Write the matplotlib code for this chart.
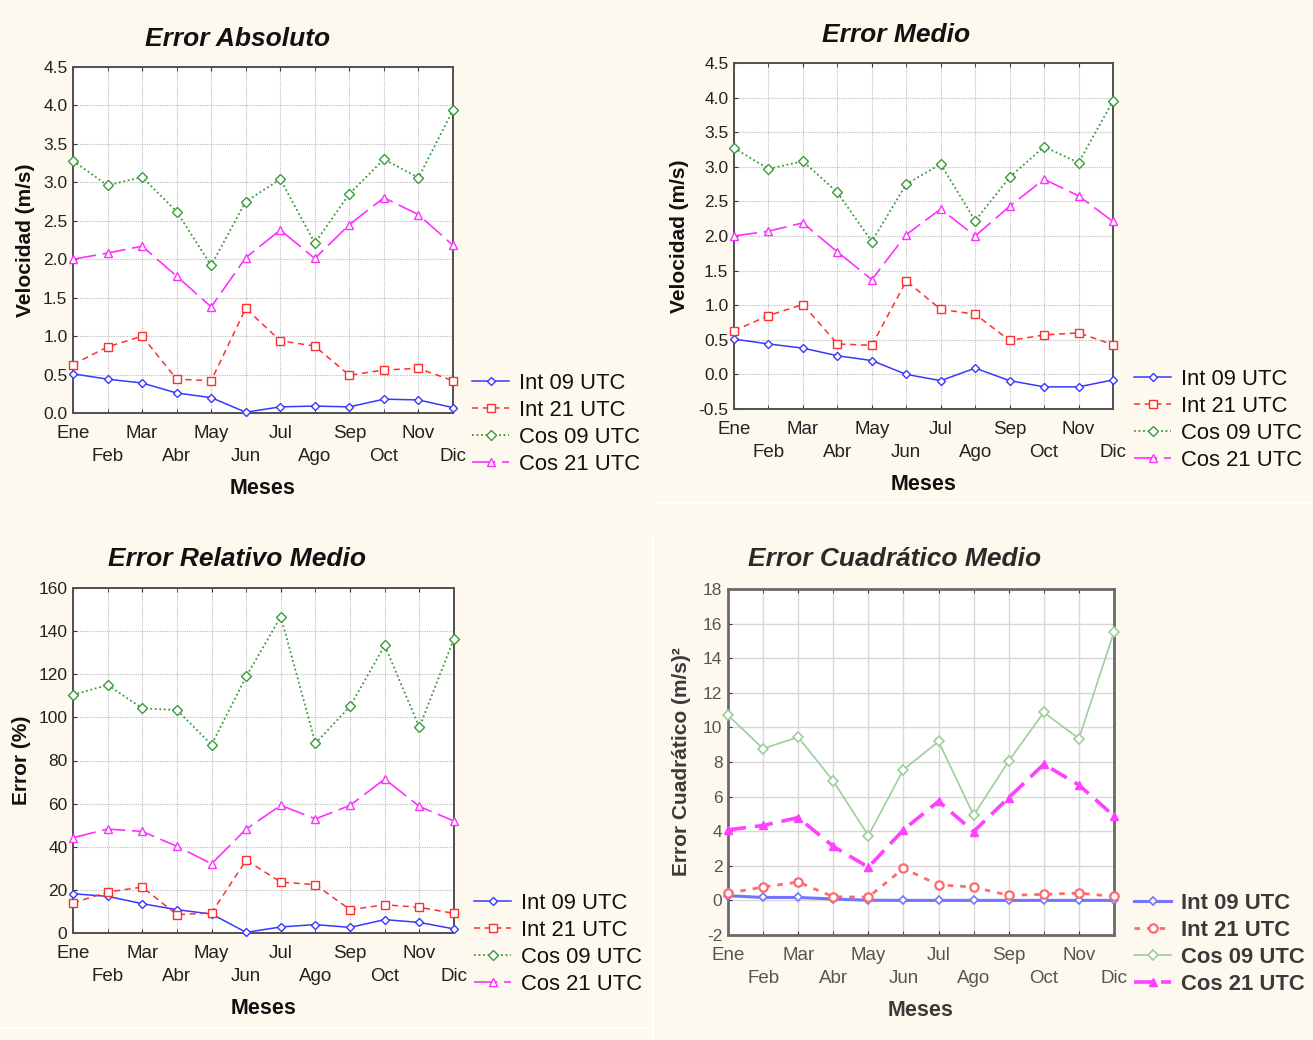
import matplotlib
matplotlib.use("Agg")
import matplotlib.pyplot as plt
from matplotlib.lines import Line2D

plt.rcParams['font.family'] = ['Liberation Sans', 'DejaVu Sans']

W, H = 1313, 1040
BG = '#fdf9ee'

months = ['Ene', 'Feb', 'Mar', 'Abr', 'May', 'Jun', 'Jul', 'Ago', 'Sep', 'Oct', 'Nov', 'Dic']
series_names = ['Int 09 UTC', 'Int 21 UTC', 'Cos 09 UTC', 'Cos 21 UTC']

# Error Absoluto (m/s)
abs_int09 = [0.51, 0.44, 0.39, 0.26, 0.20, 0.01, 0.08, 0.09, 0.08, 0.18, 0.17, 0.07]
abs_int21 = [0.63, 0.86, 1.00, 0.44, 0.42, 1.36, 0.94, 0.87, 0.49, 0.56, 0.58, 0.42]
abs_cos09 = [3.28, 2.96, 3.07, 2.62, 1.92, 2.75, 3.04, 2.21, 2.85, 3.30, 3.06, 3.94]
abs_cos21 = [2.00, 2.08, 2.17, 1.78, 1.38, 2.02, 2.38, 2.01, 2.45, 2.80, 2.58, 2.18]

# Error Medio (m/s)
med_int09 = [0.51, 0.44, 0.38, 0.27, 0.20, 0.00, -0.09, 0.09, -0.09, -0.18, -0.18, -0.08]
med_int21 = [0.63, 0.85, 1.01, 0.44, 0.42, 1.35, 0.94, 0.87, 0.49, 0.57, 0.60, 0.43]
med_cos09 = [3.27, 2.97, 3.08, 2.63, 1.92, 2.75, 3.04, 2.22, 2.85, 3.29, 3.06, 3.95]
med_cos21 = [2.00, 2.07, 2.19, 1.77, 1.37, 2.02, 2.39, 2.00, 2.43, 2.82, 2.58, 2.21]

# Error Relativo Medio (%)
rel_int09 = [18.2, 17.0, 13.6, 10.8, 8.8, 0.3, 2.8, 3.9, 2.6, 6.2, 4.9, 1.9]
rel_int21 = [13.9, 19.0, 21.3, 8.5, 9.3, 33.8, 23.6, 22.4, 10.8, 13.1, 11.9, 9.1]
rel_cos09 = [110.5, 115.0, 104.2, 103.4, 87.3, 119.0, 146.7, 88.0, 105.1, 133.4, 95.4, 136.5]
rel_cos21 = [44.2, 48.2, 47.1, 40.2, 32.1, 48.2, 59.2, 52.9, 59.2, 71.4, 58.7, 51.9]

# Error Cuadratico Medio (m/s)^2
cua_int09 = [0.27, 0.17, 0.17, 0.08, 0.01, 0.0, 0.0, 0.0, 0.0, 0.0, 0.0, 0.0]
cua_int21 = [0.42, 0.77, 1.06, 0.21, 0.19, 1.85, 0.90, 0.77, 0.29, 0.35, 0.42, 0.23]
cua_cos09 = [10.7, 8.77, 9.44, 6.90, 3.75, 7.56, 9.19, 4.92, 8.06, 10.87, 9.35, 15.52]
cua_cos21 = [4.08, 4.33, 4.79, 3.12, 1.92, 4.08, 5.73, 3.98, 5.94, 7.87, 6.67, 4.88]

fig = plt.figure(figsize=(W / 100, H / 100), dpi=100, facecolor=BG)

# faint white separators between the pasted panels
fig.add_artist(Line2D([657 / W, 1.0], [1 - 503 / H, 1 - 503 / H], color='white', lw=1.5))
fig.add_artist(Line2D([653 / W, 653 / W], [1 - 535 / H, 0], color='white', lw=1.5))
fig.add_artist(Line2D([0, 653 / W], [1 - 1028 / H, 1 - 1028 / H], color='white', lw=1.5))

style_normal = [
    dict(color='#3838ff', ls='-', lw=1.1, marker='D', ms=4.5, mfc='white', mew=1.0),
    dict(color='#ff2f2f', ls=(0, (4, 3)), lw=1.1, marker='s', ms=5.5, mfc='white', mew=1.0),
    dict(color='#3a9a3a', ls=(0, (1, 1.5)), lw=1.3, marker='D', ms=5.0, mfc='white', mew=1.0),
    dict(color='#ff2fff', ls=(0, (14, 4)), lw=1.2, marker='^', ms=6.0, mfc='white', mew=1.0),
]
style_blur = [
    dict(color='#7474ff', ls='-', lw=2.2, marker='D', ms=4.5, mfc='white', mew=1.2),
    dict(color='#ff6a6a', ls=(0, (2, 2.5)), lw=2.0, marker='o', ms=6.0, mfc='white', mew=1.6),
    dict(color='#9ccf9c', ls='-', lw=1.2, marker='D', ms=5.0, mfc='white', mew=1.2),
    dict(color='#ff40ff', ls=(0, (5, 2.5)), lw=2.6, marker='^', ms=6.0, mfc='#ff40ff', mew=1.0),
]


def px_rect(l, t, r, b):
    return [l / W, 1 - b / H, (r - l) / W, (b - t) / H]


def panel(box, title, title_px, series, ylim, yticks, yfmt, ylabel, ylab_right_px,
          xlab_top_px, legend_px, styles, blur=False):
    l, t, r, b = box
    ax = fig.add_axes(px_rect(l, t, r, b))
    ax.set_facecolor('white')
    txtcol = '#2a2a2a' if blur else '#111111'
    labcol = '#3a3a3a' if blur else '#111111'
    tickcol = '#555555' if blur else '#222222'
    x = list(range(len(months)))
    handles = []
    for vals, name, st in zip(series, series_names, styles):
        h, = ax.plot(x, vals, label=name, clip_on=False, zorder=3, **st)
        handles.append(h)
    ax.set_xlim(0, 11)
    ax.set_ylim(*ylim)
    ax.set_yticks(yticks)
    ax.set_yticklabels([yfmt.format(v) for v in yticks], fontsize=12.5, color=tickcol)
    ax.set_xticks(x[0::2])
    ax.set_xticklabels(months[0::2], fontsize=13.5, color=tickcol)
    ax.set_xticks(x[1::2], minor=True)
    ax.set_xticklabels(months[1::2], minor=True, fontsize=13.5, color=tickcol)
    ax.tick_params(axis='x', which='major', direction='in', length=3, pad=8.5, top=True,
                   color='#333333')
    ax.tick_params(axis='x', which='minor', direction='in', length=3, pad=25.5, top=True,
                   color='#333333')
    ax.tick_params(axis='y', direction='in', length=3, pad=4, color='#333333')
    if blur:
        ax.grid(True, which='both', color='#d8d8d8', ls='-', lw=1.0)
    else:
        ax.grid(True, which='both', color='#bdbdbd', ls=(0, (1, 1)), lw=0.8)
    ax.set_axisbelow(True)
    for s in ax.spines.values():
        s.set_color('#505050' if not blur else '#6a6a6a')
        s.set_linewidth(1.4 if not blur else 2.0)
    ax.set_title(title, x=(title_px[0] - l) / (r - l), y=(b - title_px[1]) / (b - t),
                 va='center', pad=0, fontsize=19, fontweight='bold', fontstyle='italic',
                 color=txtcol)
    ax.set_xlabel('Meses', fontsize=15.5, fontweight='bold', color=labcol)
    ax.xaxis.set_label_coords(0.5, (b - xlab_top_px) / (b - t))
    ax.set_ylabel(ylabel, fontsize=15, fontweight='bold', color=labcol)
    ax.yaxis.set_label_coords((ylab_right_px - l) / (r - l), 0.5)
    ax.legend(handles=handles, loc='upper left',
              bbox_to_anchor=(legend_px[0] / W, 1 - legend_px[1] / H),
              bbox_transform=fig.transFigure, frameon=False, borderpad=0,
              borderaxespad=0, labelspacing=0.27, handlelength=1.7,
              handletextpad=0.45,
              prop=dict(family='Liberation Sans', size=15.8,
                        weight='bold' if blur else 'normal'),
              labelcolor=labcol)
    return ax


panel((73, 67, 453, 413), 'Error Absoluto', (238, 39),
      [abs_int09, abs_int21, abs_cos09, abs_cos21], (0, 4.5),
      [0, 0.5, 1, 1.5, 2, 2.5, 3, 3.5, 4, 4.5], '{:.1f}', 'Velocidad (m/s)', 35,
      478, (472, 373), style_normal)

panel((734, 63, 1113, 409), 'Error Medio', (896, 35),
      [med_int09, med_int21, med_cos09, med_cos21], (-0.5, 4.5),
      [-0.5, 0, 0.5, 1, 1.5, 2, 2.5, 3, 3.5, 4, 4.5], '{:.1f}', 'Velocidad (m/s)', 689,
      474, (1134, 369), style_normal)

panel((73, 588, 454, 933), 'Error Relativo Medio', (237, 559),
      [rel_int09, rel_int21, rel_cos09, rel_cos21], (0, 160),
      list(range(0, 161, 20)), '{:d}', 'Error (%)', 31,
      998, (474, 893), style_normal)

panel((728, 589, 1114, 935), 'Error Cuadrático Medio', (895, 559),
      [cua_int09, cua_int21, cua_cos09, cua_cos21], (-2, 18),
      list(range(-2, 19, 2)), '{:d}', 'Error Cuadrático (m/s)²', 691,
      1000, (1134, 893), style_blur, blur=True)

fig.savefig('out.png', dpi=100, facecolor=BG)
